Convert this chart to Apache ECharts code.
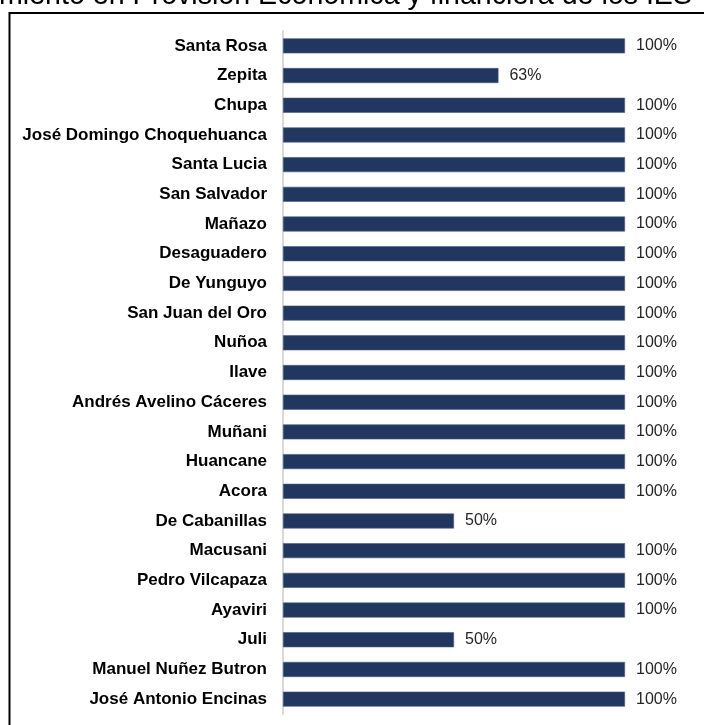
<!DOCTYPE html>
<html>
<head>
<meta charset="utf-8">
<script src="https://cdn.jsdelivr.net/npm/echarts@6/dist/echarts.min.js"></script>
<style>
html,body{margin:0;padding:0;background:#fff;}
#c{width:704px;height:725px;}
</style>
</head>
<body>
<div id="c"></div>
<script>
const titleText = 'Cumplimiento en Provisión Económica y financiera de los IES';
const categories = ['Santa Rosa','Zepita','Chupa','José Domingo Choquehuanca','Santa Lucia','San Salvador','Mañazo','Desaguadero','De Yunguyo','San Juan del Oro','Nuñoa','Ilave','Andrés Avelino Cáceres','Muñani','Huancane','Acora','De Cabanillas','Macusani','Pedro Vilcapaza','Ayaviri','Juli','Manuel Nuñez Butron','José Antonio Encinas'];
const values = [100,63,100,100,100,100,100,100,100,100,100,100,100,100,100,100,50,100,100,100,50,100,100];

const chart = echarts.init(document.getElementById('c'), null, {renderer:'canvas'});
chart.setOption({
  animation:false,
  backgroundColor:'#fff',
  graphic:[
    {type:'rect', shape:{x:9.5,y:13,width:720,height:730}, style:{fill:'none',stroke:'#000',lineWidth:2}, z:0},
    {type:'text', x:692, y:11, style:{text:titleText, font:'28.6px "Liberation Sans", Arial', fill:'#000', align:'right', verticalAlign:'bottom'}}
  ],
  grid:{left:283, width:342, top:31, height:683, containLabel:false},
  xAxis:{type:'value', min:0, max:100, show:false},
  yAxis:{type:'category', data:categories, inverse:true,
    axisLine:{lineStyle:{color:'#d9d9d9', width:2}},
    axisTick:{show:false},
    axisLabel:{margin:16, color:'#000', fontFamily:'"Liberation Sans", Arial', fontWeight:'bold', fontSize:17}},
  series:[{type:'bar', data:values, barWidth:15,
    itemStyle:{color:'#22375f', borderColor:'#4a5d85', borderWidth:0.6},
    label:{show:true, position:'right', distance:11, formatter:'{c}%', color:'#262626', fontFamily:'"Liberation Sans", Arial', fontSize:16}}]
});
</script>
</body>
</html>
